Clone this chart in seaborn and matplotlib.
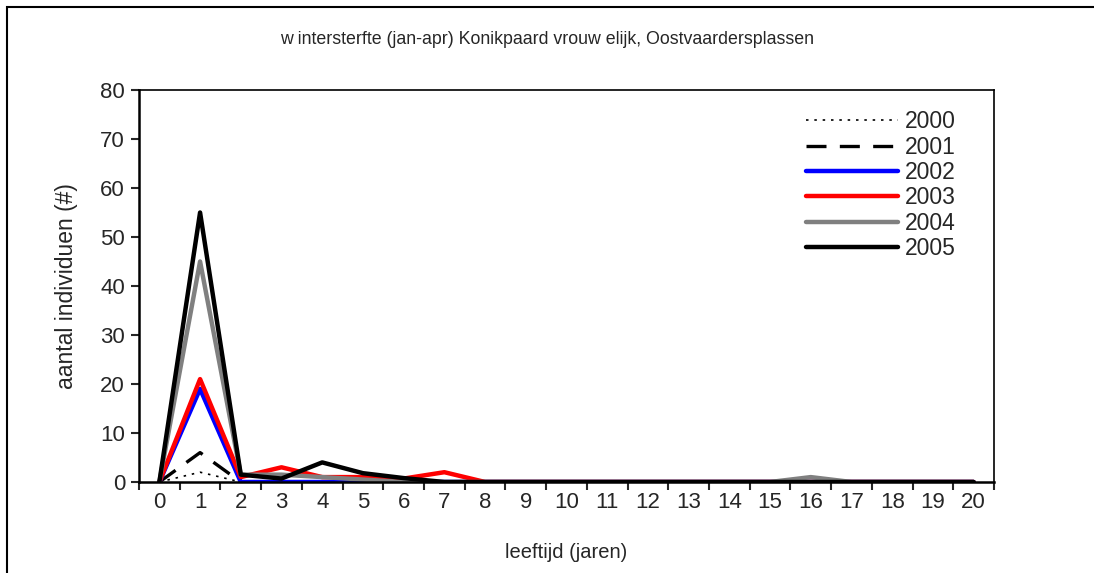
import numpy as np
import pandas as pd
import matplotlib
matplotlib.use("Agg")
import matplotlib.pyplot as plt
import seaborn as sns
from matplotlib.patches import Rectangle

# leeftijd 0..20, aantal dode merries per winter
leeftijd = list(range(21))
jaren = ['2000', '2001', '2002', '2003', '2004', '2005']

w2000 = [0, 2, 0, 0, 0, 0, 0, 0, 0, 0, 0, 0, 0, 0, 0, 0, 0, 0, 0, 0, 0]
w2001 = [0, 6, 0, 0, 0, 0, 0, 0, 0, 0, 0, 0, 0, 0, 0, 0, 0, 0, 0, 0, 0]
w2002 = [0, 19, 0, 0, 0, 0, 0, 0, 0, 0, 0, 0, 0, 0, 0, 0, 0, 0, 0, 0, 0]
w2003 = [0, 21, 1, 3, 1, 1, 0.7, 2, 0, 0, 0, 0, 0, 0, 0, 0, 0, 0, 0, 0, 0]
w2004 = [0, 45, 1.5, 1.5, 1, 0.5, 0, 0, 0, 0, 0, 0, 0, 0, 0, 0, 1, 0, 0, 0, 0]
w2005 = [0, 55, 1.5, 0.7, 4, 1.8, 0.8, 0, 0, 0, 0, 0, 0, 0, 0, 0, 0, 0, 0, 0, 0]

series = [w2000, w2001, w2002, w2003, w2004, w2005]
kleuren = ['black', 'black', '#0000ff', '#ff0000', '#808080', 'black']
stijlen = [(0, (1.5, 3.5)), (0, (6, 4)), '-', '-', '-', '-']
dikte = [1.2, 2.4, 3.2, 3.2, 3.2, 3.2]

df = pd.DataFrame({'leeftijd': leeftijd * len(jaren),
                   'jaar': np.repeat(jaren, len(leeftijd)),
                   'aantal': np.concatenate(series)})

sns.set_style("white")
plt.rcParams['font.family'] = ['Liberation Sans', 'DejaVu Sans']

fig = plt.figure(figsize=(10.94, 5.73), dpi=100)
ax = fig.add_axes([139/1094, 1 - 482/573, (994 - 139)/1094, (482 - 90)/573])

for jaar, kleur, stijl, lw in zip(jaren, kleuren, stijlen, dikte):
    sub = df[df['jaar'] == jaar]
    sns.lineplot(data=sub, x='leeftijd', y='aantal', ax=ax, color=kleur,
                 linestyle=stijl, lw=lw, label=jaar)

ax.set_xlim(-0.5, 20.5)
ax.set_ylim(0, 80)
ax.set_yticks(range(0, 81, 10))
ax.set_xticks(leeftijd)
ax.set_xticks(np.arange(-0.5, 21, 1), minor=True)
ax.tick_params(axis='x', which='major', length=0, labelsize=16, pad=7)
ax.tick_params(axis='x', which='minor', length=6, width=1.5, direction='out', bottom=True)
ax.tick_params(axis='y', length=6, width=1.5, direction='out', left=True, labelsize=16, pad=4)
for s in ax.spines.values():
    s.set_color('black')
    s.set_linewidth(1.2)
ax.spines['left'].set_linewidth(1.8)
ax.spines['bottom'].set_linewidth(1.8)

ax.set_xlabel('leeftijd (jaren)', fontsize=14.5, labelpad=22)
ax.set_ylabel('aantal individuen (#)', fontsize=16.5, labelpad=16)
fig.text(547/1094, 1 - 40/573, 'w intersterfte (jan-apr) Konikpaard vrouw elijk, Oostvaardersplassen',
         ha='center', va='center', fontsize=12.8)

leg = ax.legend(loc='upper left', bbox_to_anchor=(0.78, 0.948), frameon=False,
                fontsize=16.5, handlelength=4.0, handletextpad=0.3,
                labelspacing=0.1, borderpad=0, borderaxespad=0)

# rand van de grafiek
fig.patches.append(Rectangle((7/1094, -0.1), 1.2, 1.1 - 7/573, transform=fig.transFigure,
                             fill=False, edgecolor='black', lw=1.5))

fig.savefig('out.png', dpi=100)
